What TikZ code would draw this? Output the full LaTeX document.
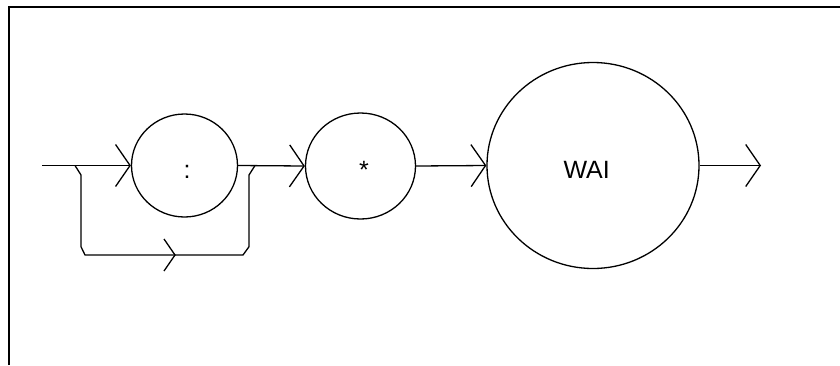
\documentclass[tikz,border=0pt]{standalone}
\usepackage{fontspec}
\setmainfont{Liberation Sans}
\usetikzlibrary{arrows.meta,shapes.geometric}
\begin{document}
\begin{tikzpicture}[x=1pt,y=-1pt,
  line width=1.3pt,
  term/.style={draw,ellipse,inner sep=0pt},
  lbl/.style={anchor=base,inner sep=0pt,font=\fontsize{25}{30}\selectfont},
  flow/.style={-{Straight Barb[length=14.5pt,width=42pt]}},
  frame/.style={line width=1.8pt}]
\useasboundingbox (0,0) rectangle (840,365);
% partial frame
\coordinate (fa) at (9,365);
\coordinate (fb) at (9,7);
\coordinate (fc) at (840,7);
\draw[frame] (fa) -- (fb) -- (fc);
% terminals
\node[term,minimum width=106pt,minimum height=103pt] (c1) at (184.5,165.5) {};
\node[term,minimum width=110pt,minimum height=106pt] (c2) at (360.5,166) {};
\node[term,minimum width=212pt,minimum height=206pt] (c3) at (593,165.5) {};
\node[lbl] (t1) at (187,178) {:};
\node[lbl] (t2) at (364,178) {*};
\node[lbl] (t3) at (586.7,178) {WAI};
% main line
\coordinate (start) at (42,165.5);
\coordinate (stop) at (761,165.5);
\draw[flow] (start) -- (c1.west);
\draw[flow] (c1.east) -- (c2.west);
\draw[flow] (c2.east) -- (c3.west);
\draw[flow] (c3.east) -- (stop);
% bypass
\coordinate (b0) at (75,165.5);
\coordinate (b7) at (255,165.5);
\coordinate (bm) at (175,255);
\draw (b0) -- (81,175) -- (81,246.7) -- (85,255) -- (bm) -- (243,255) -- (249,246.7) -- (249,175) -- (b7);
\draw (bm) ++(-11,-16) -- (bm) -- ++(-11,16);
\end{tikzpicture}
\end{document}
